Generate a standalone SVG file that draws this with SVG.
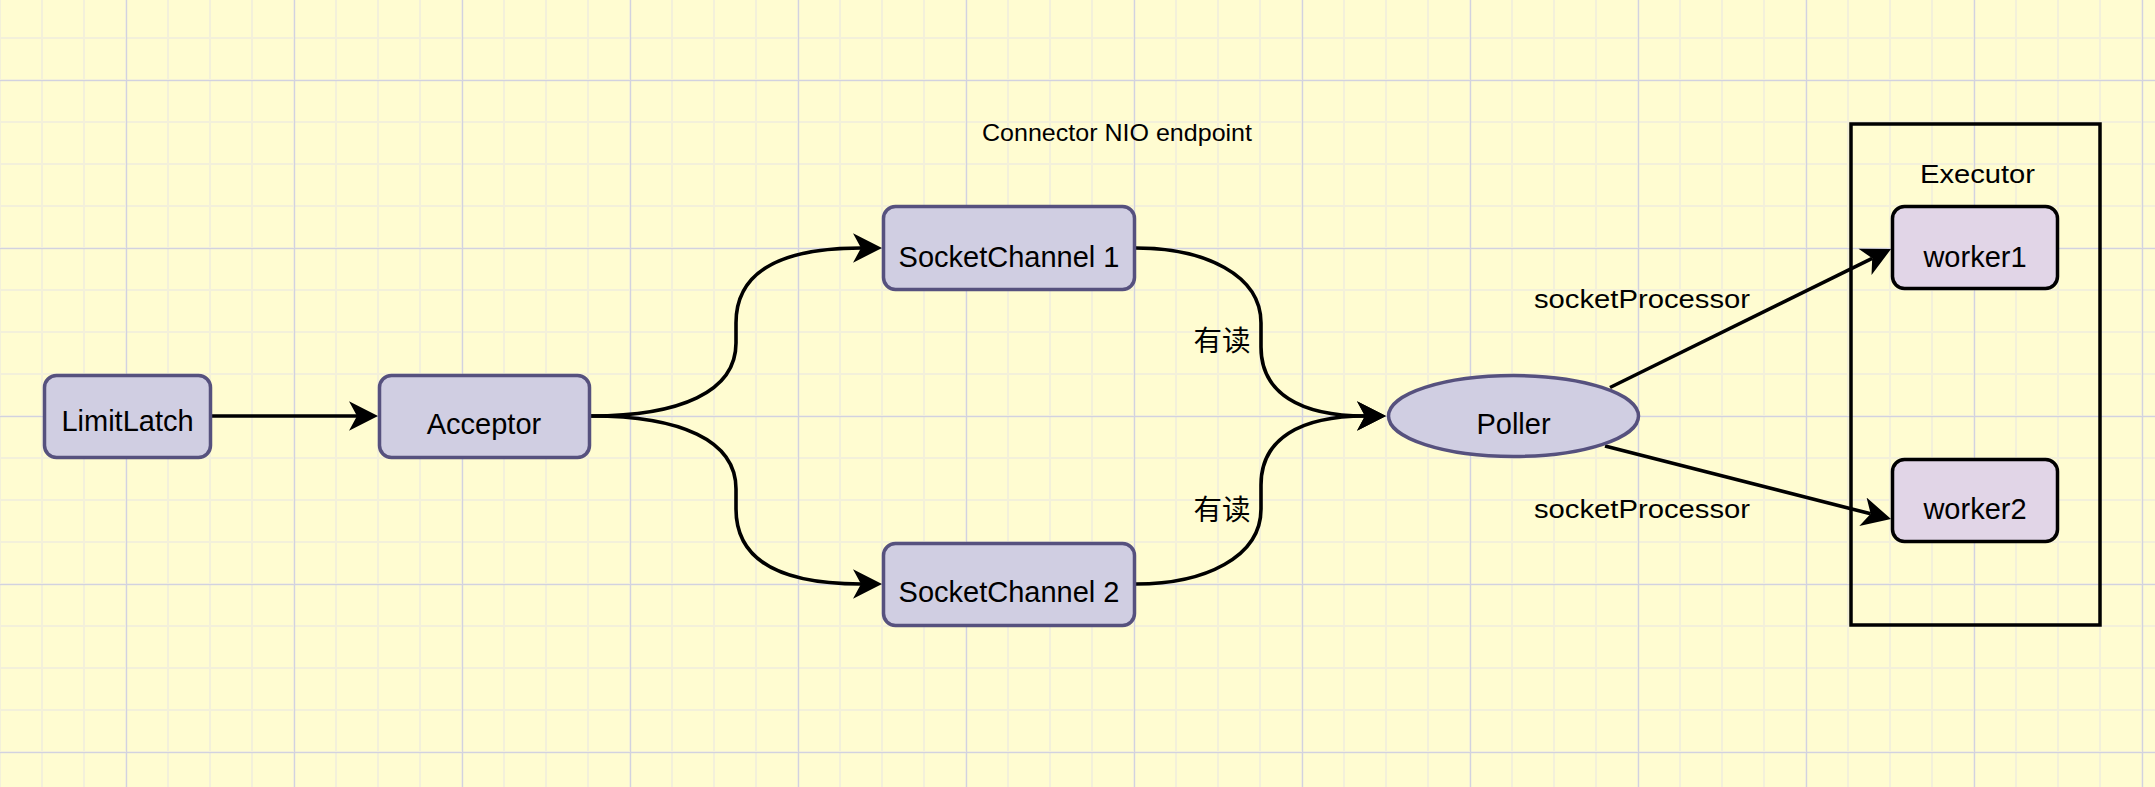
<svg xmlns="http://www.w3.org/2000/svg" width="2155" height="787" viewBox="0 0 2155 787">
  <style>
    .node { fill: #d0cee2; stroke: #56517e; stroke-width: 3.5; }
    .worker { fill: #e1d5e7; stroke: #000000; stroke-width: 3.5; }
    .frame { fill: none; stroke: #000000; stroke-width: 3.5; }
    .edge { fill: none; stroke: #000000; stroke-width: 3.6; marker-end: url(#arr); }
    .lbl { font-family: "Liberation Sans", Arial, sans-serif; font-size: 29px; text-anchor: middle; fill: #000000; }
    .cjk { font-family: "Liberation Sans", "Noto Sans CJK SC", sans-serif; font-size: 28.5px; text-anchor: middle; fill: #000000; }
  </style>
  <defs>
    <pattern id="minor" patternUnits="userSpaceOnUse" x="-1" y="-5" width="42" height="42">
      <rect x="0" y="0" width="2" height="42" fill="#f3f0da"/>
      <rect x="0" y="0" width="42" height="2" fill="#f3f0da"/>
    </pattern>
    <pattern id="major" patternUnits="userSpaceOnUse" x="126" y="80" width="168" height="168">
      <rect x="0" y="0" width="1.2" height="168" fill="#d2d2df"/>
      <rect x="0" y="0" width="168" height="1.2" fill="#d2d2df"/>
    </pattern>
    <marker id="arr" markerUnits="userSpaceOnUse" markerWidth="30" markerHeight="32" viewBox="0 -16 30 32" refX="8" refY="0" orient="auto">
      <path d="M0,-14.7 L29,0 L0,14.7 L8,0 Z" fill="#000000"/>
    </marker>
  </defs>

  <g id="background">
    <rect x="0" y="0" width="2155" height="787" fill="#fffcd1"/>
    <rect x="0" y="0" width="2155" height="787" fill="url(#minor)"/>
    <rect x="0" y="0" width="2155" height="787" fill="url(#major)"/>
  </g>

  <g id="title">
    <text class="lbl" x="1117" y="141" style="font-size:24.5px" textLength="270" lengthAdjust="spacingAndGlyphs">Connector NIO endpoint</text>
  </g>

  <g id="connectors">
    <path class="edge" d="M212,416 H357"/>
    <path class="edge" d="M591,416 C680,416 736,392 736,343 L736,323 C736,275 775,248 861,248"/>
    <path class="edge" d="M591,416 C680,416 736,440 736,489 L736,509 C736,557 775,584 861,584"/>
    <path class="edge" d="M1136,248 C1205,248 1261,275 1261,323 L1261,347 C1261,393 1300,416 1365,416"/>
    <path class="edge" d="M1136,584 C1205,584 1261,557 1261,509 L1261,485 C1261,439 1300,416 1365,416"/>
    <path class="edge" d="M1610,387.5 L1872.2,258.3"/>
    <path class="edge" d="M1605,446 L1870.7,513.8"/>
    <text class="cjk" x="1222" y="351">有读</text>
    <text class="cjk" x="1222" y="520">有读</text>
    <text class="lbl" x="1642" y="308" style="font-size:25px" textLength="216" lengthAdjust="spacingAndGlyphs">socketProcessor</text>
    <text class="lbl" x="1642" y="518" style="font-size:25px" textLength="216" lengthAdjust="spacingAndGlyphs">socketProcessor</text>
  </g>

  <g id="limitlatch">
    <rect class="node" x="44.5" y="375.5" width="166" height="82" rx="12"/>
    <text class="lbl" x="127.5" y="431">LimitLatch</text>
  </g>

  <g id="acceptor">
    <rect class="node" x="379.5" y="375.5" width="210" height="82" rx="12"/>
    <text class="lbl" x="484" y="434">Acceptor</text>
  </g>

  <g id="socketchannel1">
    <rect class="node" x="883.5" y="206.5" width="251" height="83" rx="12"/>
    <text class="lbl" x="1009" y="267">SocketChannel 1</text>
  </g>

  <g id="socketchannel2">
    <rect class="node" x="883.5" y="543.5" width="251" height="82" rx="12"/>
    <text class="lbl" x="1009" y="602">SocketChannel 2</text>
  </g>

  <g id="poller">
    <ellipse class="node" cx="1513.5" cy="416" rx="125" ry="40.5"/>
    <text class="lbl" x="1513.5" y="434">Poller</text>
  </g>

  <g id="executor">
    <rect class="frame" x="1851" y="124" width="249" height="501"/>
    <text class="lbl" x="1977.5" y="183" style="font-size:26px" textLength="115" lengthAdjust="spacingAndGlyphs">Executor</text>
  </g>

  <g id="worker1">
    <rect class="worker" x="1892.5" y="206.5" width="165" height="82" rx="12"/>
    <text class="lbl" x="1975" y="267">worker1</text>
  </g>

  <g id="worker2">
    <rect class="worker" x="1892.5" y="459.5" width="165" height="82" rx="12"/>
    <text class="lbl" x="1975" y="519">worker2</text>
  </g>
</svg>
